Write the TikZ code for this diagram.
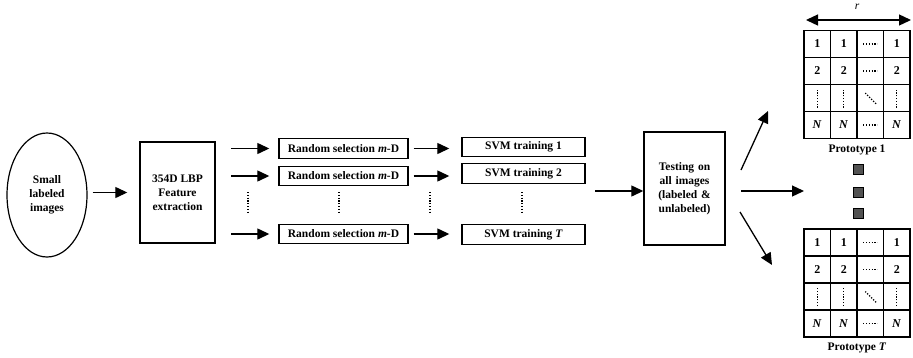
\documentclass[tikz,border=0pt]{standalone}
\usepackage{fontspec}
\setmainfont{Liberation Serif}
\usetikzlibrary{shapes.geometric,arrows.meta}
\begin{document}
\begin{tikzpicture}[x=1pt,y=-1pt,
  every node/.style={font=\fontsize{11.5}{14}\selectfont\bfseries},
  box/.style={draw,line width=1.4pt,inner sep=0pt,align=center},
  rowbox/.style={box,minimum height=19.5pt},
  arr/.style={line width=1.3pt,-{Triangle[length=12pt,width=11pt]}},
  dots/.style={line width=1.4pt,dash pattern=on 1.2pt off 1.6pt},
  cell/.style={draw,line width=1.4pt,minimum width=26.5pt,minimum height=27pt,inner sep=0pt},
  num/.style={font=\fontsize{12}{14}\selectfont\bfseries},
  tiny/.style={draw,line width=0.8pt,fill=black!68,minimum size=10pt,inner sep=0pt}]
\useasboundingbox (0,0) rectangle (913,357);

% input and feature extraction
\node[draw,line width=1.2pt,ellipse,minimum width=80pt,minimum height=124pt,inner sep=0pt,align=center] (src) at (47,195) {Small\\labeled\\images};
\node[box,minimum width=75pt,minimum height=101pt] (lbp) at (177.5,192.5) {354D LBP\\Feature\\extraction};
\draw[arr,shorten <=5pt,shorten >=12pt] (src.east |- lbp) -- (lbp.west);

% random subspaces and SVMs
\foreach \i/\y/\ys/\lab in {1/148.5/147/1, 2/176/173.5/2, 3/234/234.5/\textit{T}} {
  \node[rowbox,minimum width=129pt] (rs\i) at (343.5,\y) {Random selection \textit{m}-D};
  \node[rowbox,minimum width=123pt] (svm\i) at (523.5,\ys) {SVM training \lab};
  \coordinate (in\i) at (231,\y);
  \draw[arr,shorten >=9pt] (in\i) -- (rs\i.west);
  \draw[arr,shorten <=5pt,shorten >=12pt] (rs\i.east) -- (rs\i.east -| svm\i.west);
}
\foreach \x in {248,339,430,522} {
  \coordinate (dt\x) at (\x,192);
  \coordinate (db\x) at (\x,212);
  \draw[dots] (dt\x) -- (db\x);
}

% testing stage
\node[box,minimum width=81pt,minimum height=113pt,text width=70pt] (test) at (684.5,188.5) {Testing on\\all images\\(labeled \&\\unlabeled)};
\coordinate (tin) at (595,191);
\draw[arr] (tin) -- (tin -| test.west);

\coordinate (u0) at (741,170); \coordinate (u1) at (768,111);
\coordinate (m0) at (741,191); \coordinate (m1) at (804,191);
\coordinate (d0) at (740,212); \coordinate (d1) at (772,265);
\draw[arr] (u0) -- (u1);
\draw[arr] (m0) -- (m1);
\draw[arr] (d0) -- (d1);

% prototype grids
\foreach \p/\top/\name in {a/30.5/1, b/229/\textit{T}} {
  \foreach \r in {1,...,4} {
    \foreach \c in {1,...,4} {
      \node[cell] (\p\r\c) at ({804+26.5*(\c-0.5)},{\top+27*(\r-0.5)}) {};
    }
    \node[num] at (\p\r1) {\ifcase\r\or 1\or 2\or\or\textit{N}\fi};
  }
  \foreach \c in {2,4} {
    \node[num] at (\p1\c) {1};
    \node[num] at (\p2\c) {2};
    \node[num] at (\p4\c) {\textit{N}};
  }
  \foreach \r in {1,2,4} \draw[dots] ([xshift=-7pt]\p\r3.center) -- ([xshift=7pt]\p\r3.center);
  \foreach \c in {1,2,4} \draw[dots] ([yshift=-9.5pt]\p3\c.center) -- ([yshift=9.5pt]\p3\c.center);
  \draw[dots] ([shift={(-5pt,5pt)}]\p33.center) -- ([shift={(6pt,-6pt)}]\p33.center);
  \node (cap\p) at (857,{\top+27*4+11}) {Prototype \name};
}
\node[font=\fontsize{11.5}{13}\selectfont\itshape] (rlab) at (857,7) {r};
\coordinate (rl) at (806,20); \coordinate (rr) at (911,20);
\draw[line width=1.3pt,{Triangle[length=12pt,width=11pt]}-{Triangle[length=12pt,width=11pt]}] (rl) -- (rr);

\node[tiny] (sq1) at (858.5,169.5) {};
\node[tiny] (sq2) at (858.5,192) {};
\node[tiny] (sq3) at (858.5,213.5) {};
\end{tikzpicture}
\end{document}
